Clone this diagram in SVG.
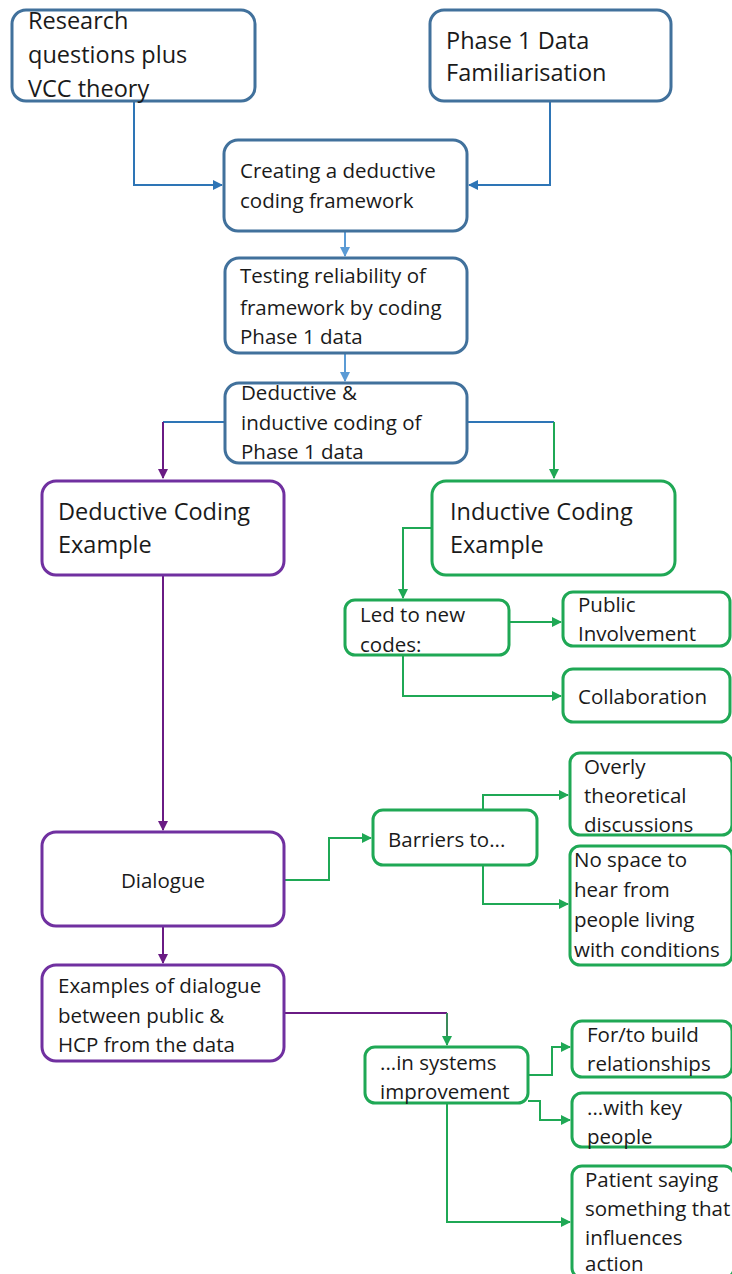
<svg xmlns="http://www.w3.org/2000/svg" width="732" height="1274" viewBox="0 0 732 1274">
<defs>
<style>
.b{fill:#fff;stroke:#41719C;stroke-width:3}
.p{fill:#fff;stroke:#7030A0;stroke-width:3}
.g{fill:#fff;stroke:#1FA855;stroke-width:3}
text{font-family:"Open Sans","Noto Sans",sans-serif;fill:#1a1a1a}
.t24{font-size:23.5px}
.t20{font-size:20.5px}
.cb{fill:none;stroke:#2E75B6;stroke-width:2}
.cl{fill:none;stroke:#5B9BD5;stroke-width:2}
.cp{fill:none;stroke:#6A1B84;stroke-width:2}
.cg{fill:none;stroke:#1FA855;stroke-width:2}
</style>
<marker id="ab" viewBox="0 0 10 10" refX="9" refY="5" markerWidth="5" markerHeight="5" orient="auto"><path d="M0,0L10,5L0,10z" fill="#2E75B6"/></marker>
<marker id="al" viewBox="0 0 10 10" refX="9" refY="5" markerWidth="5" markerHeight="5" orient="auto"><path d="M0,0L10,5L0,10z" fill="#5B9BD5"/></marker>
<marker id="ap" viewBox="0 0 10 10" refX="9" refY="5" markerWidth="5" markerHeight="5" orient="auto"><path d="M0,0L10,5L0,10z" fill="#6A1B84"/></marker>
<marker id="ag" viewBox="0 0 10 10" refX="9" refY="5" markerWidth="5" markerHeight="5" orient="auto"><path d="M0,0L10,5L0,10z" fill="#1FA855"/></marker>
</defs>
<rect width="732" height="1274" fill="#fff"/>
<g id="connectors">
<path class="cb" d="M134,101V185H222" marker-end="url(#ab)"/>
<path class="cb" d="M550,101V185H469" marker-end="url(#ab)"/>
<path class="cl" d="M345,231V256" marker-end="url(#al)"/>
<path class="cl" d="M345,353V381" marker-end="url(#al)"/>
<path class="cb" d="M225,422H163"/>
<path class="cp" d="M163,422V478" marker-end="url(#ap)"/>
<path class="cb" d="M467,422H554"/>
<path class="cg" d="M554,422V478" marker-end="url(#ag)"/>
<path class="cg" d="M432,528H403V598" marker-end="url(#ag)"/>
<path class="cg" d="M509,622H561" marker-end="url(#ag)"/>
<path class="cg" d="M403,655V696H561" marker-end="url(#ag)"/>
<path class="cp" d="M163,575V830" marker-end="url(#ap)"/>
<path class="cg" d="M284,880H329V838H371" marker-end="url(#ag)"/>
<path class="cg" d="M483,810V795H568" marker-end="url(#ag)"/>
<path class="cg" d="M483,865V904H568" marker-end="url(#ag)"/>
<path class="cp" d="M163,926V963" marker-end="url(#ap)"/>
<path class="cp" d="M284,1013H447"/>
<path class="cg" d="M447,1013V1045" marker-end="url(#ag)" style="stroke:#3a8a5a"/>
<path class="cg" d="M528,1075H552V1047H570" marker-end="url(#ag)"/>
<path class="cg" d="M528,1101H540V1120H570" marker-end="url(#ag)"/>
<path class="cg" d="M447,1103V1222H570" marker-end="url(#ag)"/>
</g>
<g id="n1"><rect class="b" x="12" y="10" width="243" height="91" rx="14"/><text class="t24" x="28" y="29">Research</text><text class="t24" x="28" y="63">questions plus</text><text class="t24" x="28" y="97">VCC theory</text></g>
<g id="n2"><rect class="b" x="430" y="10" width="241" height="91" rx="14"/><text class="t24" x="446" y="49">Phase 1 Data</text><text class="t24" x="446" y="81">Familiarisation</text></g>
<g id="n3"><rect class="b" x="224" y="140" width="243" height="91" rx="14"/><text class="t20" x="240" y="178">Creating a deductive</text><text class="t20" x="240" y="208">coding framework</text></g>
<g id="n4"><rect class="b" x="225" y="258" width="242" height="95" rx="14"/><text class="t20" x="240" y="283">Testing reliability of</text><text class="t20" x="240" y="315">framework  by coding</text><text class="t20" x="240" y="344">Phase 1 data</text></g>
<g id="n5"><rect class="b" x="225" y="383" width="242" height="80" rx="14"/><text class="t20" x="241" y="400">Deductive  &amp;</text><text class="t20" x="241" y="430">inductive coding of</text><text class="t20" x="241" y="459">Phase 1 data</text></g>
<g id="n6"><rect class="p" x="42" y="481" width="242" height="94" rx="14"/><text class="t24" x="58" y="520">Deductive Coding</text><text class="t24" x="58" y="553">Example</text></g>
<g id="n7"><rect class="g" x="432" y="481" width="243" height="94" rx="14"/><text class="t24" x="450" y="520">Inductive Coding</text><text class="t24" x="450" y="553">Example</text></g>
<g id="n8"><rect class="g" x="345" y="600" width="164" height="55" rx="10"/><text class="t20" x="360" y="622">Led to new</text><text class="t20" x="360" y="652">codes:</text></g>
<g id="n9"><rect class="g" x="563" y="592" width="167" height="54" rx="10"/><text class="t20" x="578" y="612">Public</text><text class="t20" x="578" y="641">Involvement</text></g>
<g id="n10"><rect class="g" x="563" y="669" width="167" height="53" rx="10"/><text class="t20" x="578" y="704">Collaboration</text></g>
<g id="n11"><rect class="p" x="42" y="832" width="242" height="94" rx="14"/><text class="t20" x="163" y="888" text-anchor="middle">Dialogue</text></g>
<g id="n12"><rect class="g" x="373" y="810" width="164" height="55" rx="10"/><text class="t20" x="388" y="847">Barriers  to...</text></g>
<g id="n13"><rect class="g" x="570" y="753" width="162" height="82" rx="10"/><text class="t20" x="584" y="774">Overly</text><text class="t20" x="584" y="803">theoretical</text><text class="t20" x="584" y="832">discussions</text></g>
<g id="n14"><rect class="g" x="570" y="846" width="162" height="119" rx="10"/><text class="t20" x="574" y="867">No space to</text><text class="t20" x="574" y="897">hear from</text><text class="t20" x="574" y="927">people living</text><text class="t20" x="574" y="957">with conditions</text></g>
<g id="n15"><rect class="p" x="42" y="965" width="242" height="96" rx="14"/><text class="t20" x="58" y="993">Examples of dialogue</text><text class="t20" x="58" y="1023">between public &amp;</text><text class="t20" x="58" y="1052">HCP from the data</text></g>
<g id="n16"><rect class="g" x="365" y="1047" width="163" height="56" rx="10"/><text class="t20" x="380" y="1070">...in systems</text><text class="t20" x="380" y="1099">improvement</text></g>
<g id="n17"><rect class="g" x="572" y="1021" width="160" height="56" rx="10"/><text class="t20" x="587" y="1042">For/to build</text><text class="t20" x="587" y="1071">relationships</text></g>
<g id="n18"><rect class="g" x="572" y="1093" width="160" height="54" rx="10"/><text class="t20" x="587" y="1115">...with key</text><text class="t20" x="587" y="1144">people</text></g>
<g id="n19"><rect class="g" x="572" y="1166" width="162" height="112" rx="10"/><text class="t20" x="585" y="1187">Patient saying</text><text class="t20" x="585" y="1216">something that</text><text class="t20" x="585" y="1245">influences</text><text class="t20" x="585" y="1271">action</text></g>
</svg>
